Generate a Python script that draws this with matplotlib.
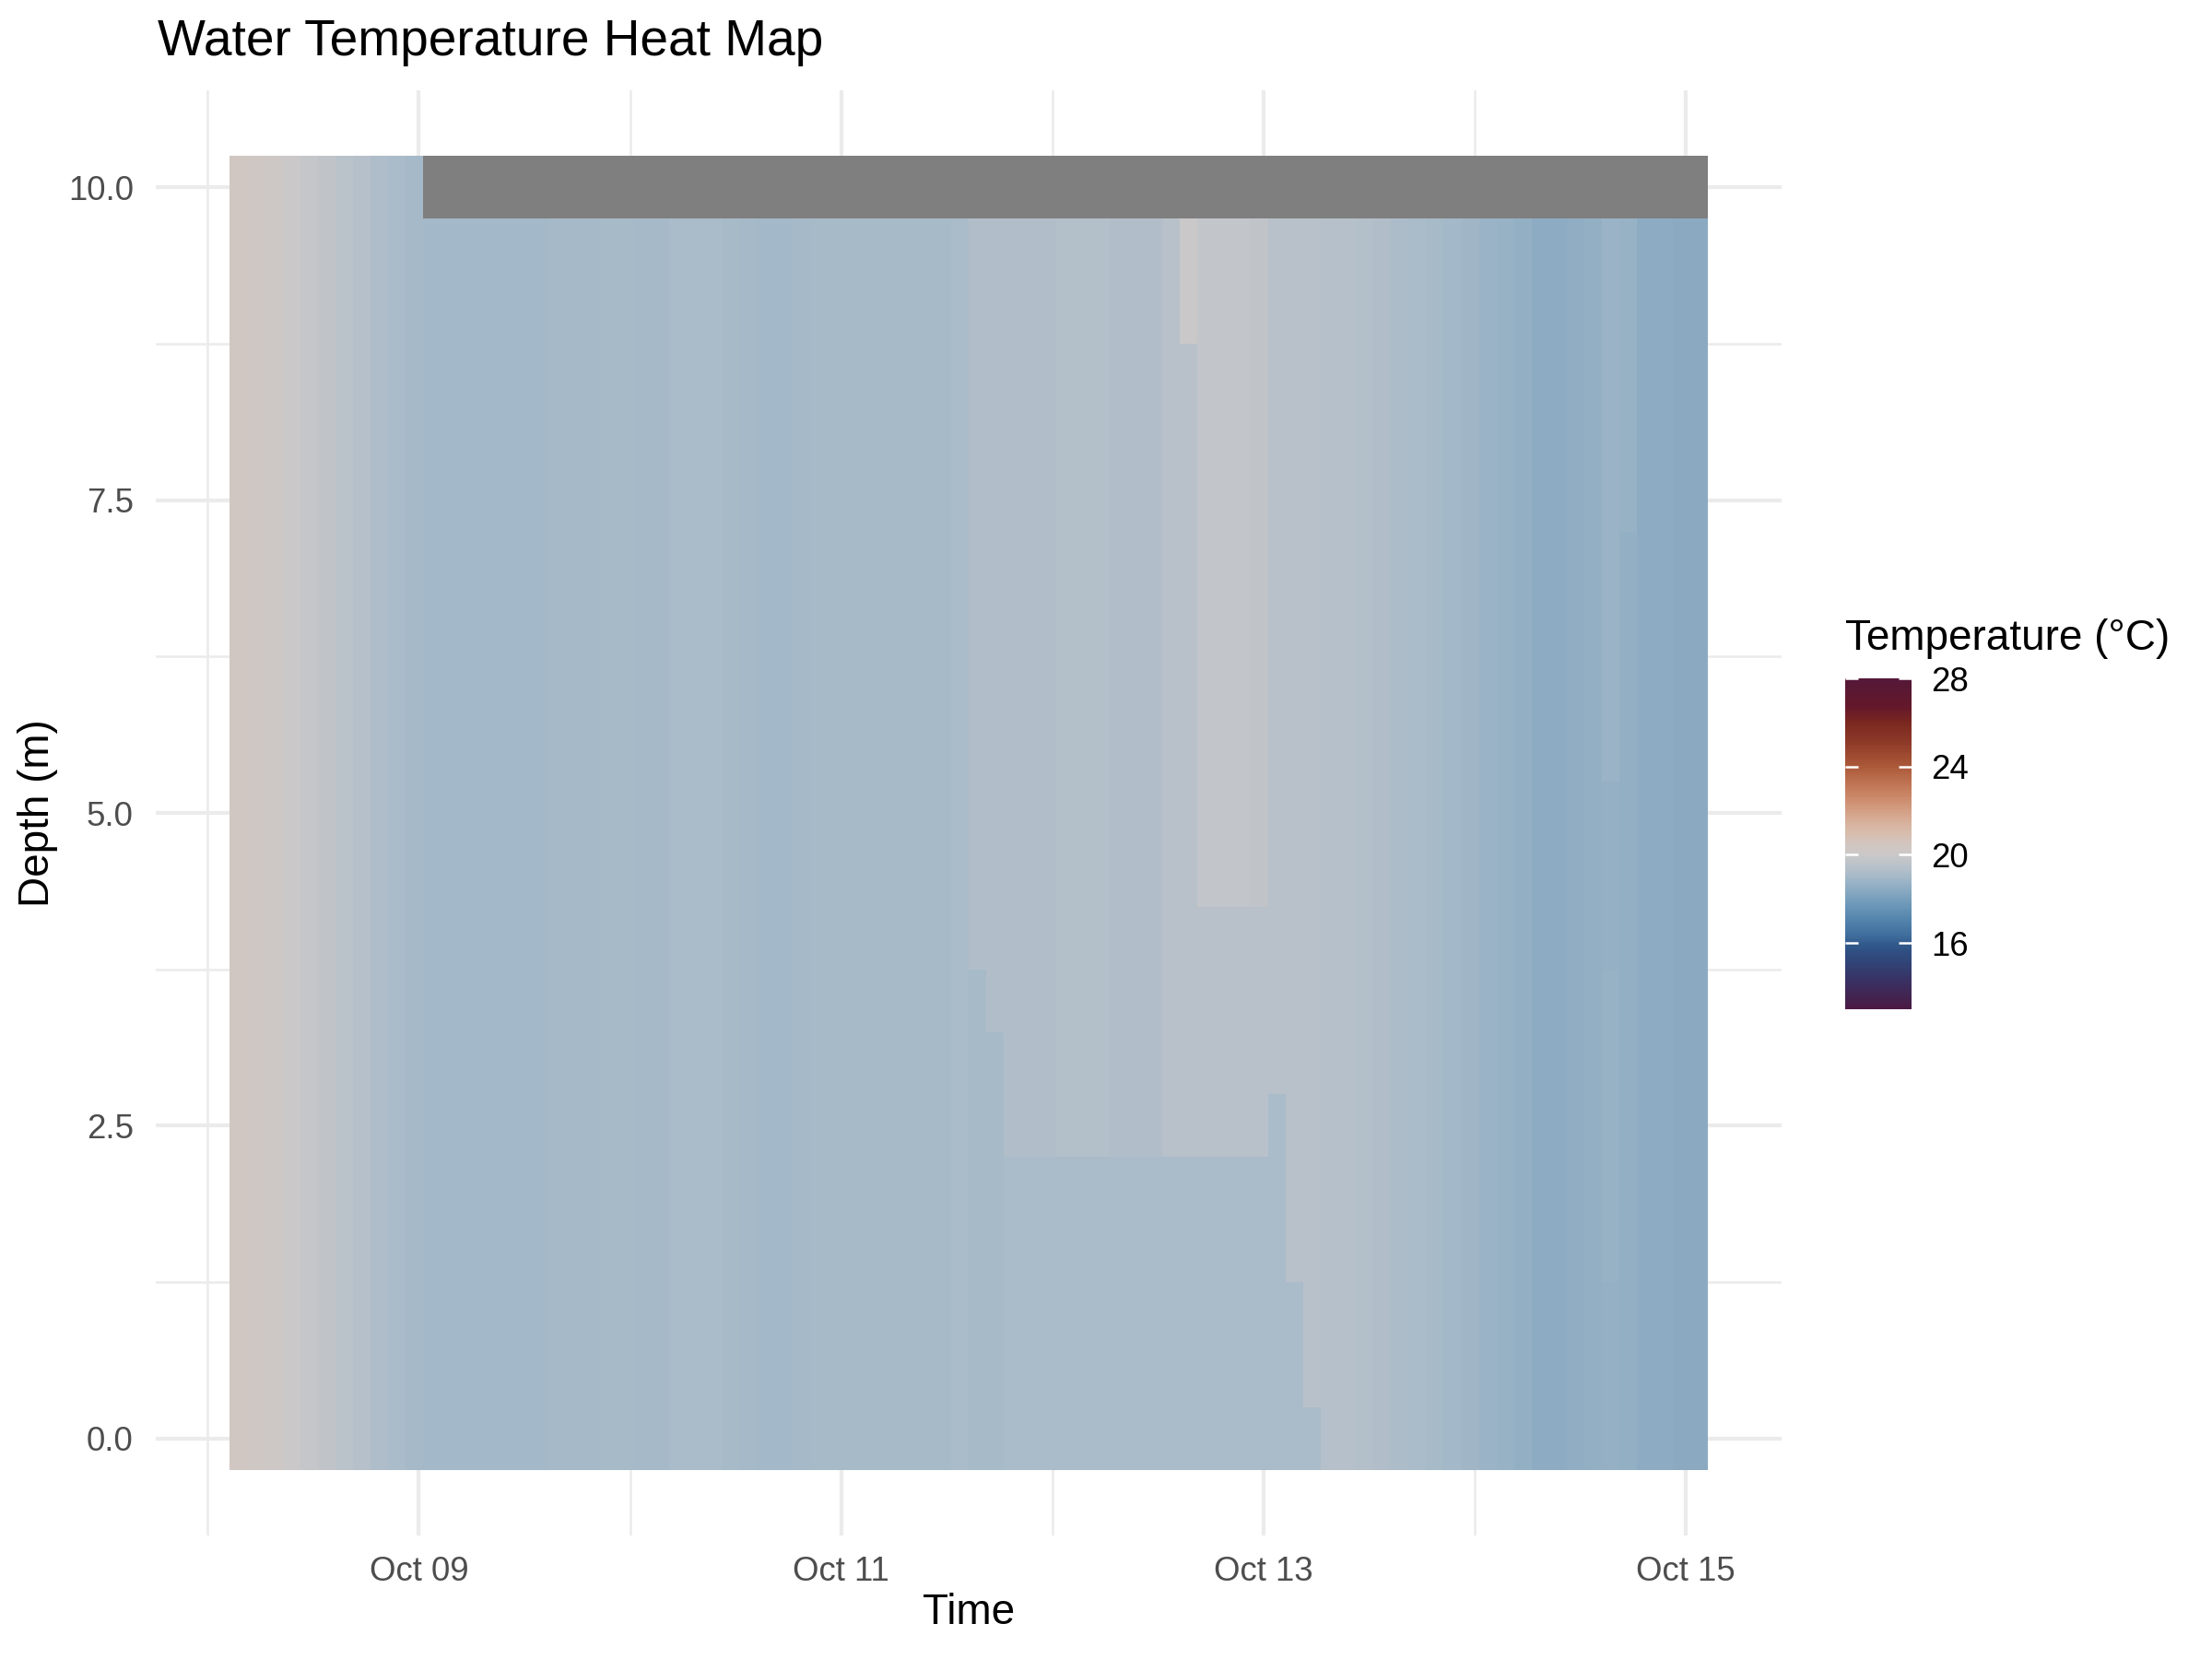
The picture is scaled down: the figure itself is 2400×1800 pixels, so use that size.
import numpy as np
import matplotlib
matplotlib.use('Agg')
import matplotlib.pyplot as plt
import matplotlib.dates as mdates
from matplotlib.colors import LinearSegmentedColormap
from datetime import datetime

plt.rcParams['font.family'] = ['Liberation Sans', 'DejaVu Sans']

# time columns: 2-hour tiles starting Oct 08 02:30
first_edge = datetime(2023, 10, 8, 2, 30)
step_hours = 2
depths = np.arange(0, 10.5, 0.5)

# temperature of the upper water column, one value per 2-hour tile
upper_temp = [
    20.35, 20.3, 20.15, 20.0, 19.85, 19.7, 19.55, 19.4, 19.25, 19.1,   # Oct 08
    19.0, 18.95, 18.92, 18.92, 18.92, 18.92, 18.97, 18.97, 19.0, 19.0,
    19.0, 19.05, 19.05, 19.02, 19.02, 19.1, 19.1, 19.1, 19.05, 19.0,
    18.95, 18.92, 18.98, 19.05, 19.05, 19.05, 19.05, 19.05, 19.05, 19.05,
    19.05, 19.1, 19.3, 19.3, 19.3, 19.3, 19.3, 19.35, 19.35, 19.35,
    19.3, 19.3, 19.3, 19.5, 19.5, 19.75, 19.75, 19.75, 19.7, 19.45,
    19.45, 19.45, 19.4, 19.4, 19.35, 19.3, 19.2, 19.15, 19.05, 18.95,
    18.9, 18.8, 18.7, 18.6, 18.5, 18.5, 18.55, 18.6, 18.65, 18.6,
    18.5, 18.45, 18.42, 18.4,
]

# colder bottom layer below a front (columns 42..61)
front_start = 42
front_depth = [4.0, 3.5] + [2.5] * 15 + [3.0, 1.5, 0.5]
lower_temp = [19.05, 19.05] + [19.1] * 15 + [19.1, 19.1, 19.1]

# smaller patches: (first column, last column, min depth, max depth, temperature)
patches = [
    (55, 58, 2.5, 4.0, 19.45),
    (54, 54, 9.0, 9.5, 20.0),
    (78, 78, 5.5, 9.5, 18.75),
    (79, 79, 7.5, 9.5, 18.7),
    (78, 78, 1.5, 3.5, 18.7),
]

# the 10 m sensor only reports for the first tiles
top_row_count = 11

# colour scale
scale_limits = (13, 28)
scale_values = [13, 13.5, 14.2, 14.9, 15.6, 16, 16.3, 17, 17.7, 18.4, 18.95, 19.5,
                20, 20.5, 21.2, 21.9, 22.55, 23.25, 24, 25.1, 26, 26.7, 28]
scale_colors = ['#4c1a44', '#42244f', '#3a2f62', '#323f72', '#2f4f83', '#335d8e',
                '#3f6c9b', '#5283ac', '#6c97b8', '#8aaac2', '#a3b8c8', '#b9c2ca',
                '#cac8c8', '#d3c6bf', '#d8b8a6', '#d5a38a', '#cc8b6c', '#bf7452',
                '#ac5a3a', '#8e3a28', '#7b2820', '#64182a', '#541838']
colorbar_ticks = [16, 20, 24, 28]

# build grid
n_cols = len(upper_temp)
temp = np.zeros((len(depths), n_cols))
for k in range(n_cols):
    temp[:, k] = upper_temp[k]
for i in range(len(front_depth)):
    k = front_start + i
    temp[depths < front_depth[i], k] = lower_temp[i]
for c0, c1, d0, d1, t in patches:
    rows = (depths >= d0) & (depths <= d1)
    temp[rows, c0:c1 + 1] = t
temp[depths == 10, top_row_count:] = np.nan

x_edges = mdates.date2num(first_edge) + np.arange(n_cols + 1) * step_hours / 24.0
y_edges = np.append(depths - 0.25, depths[-1] + 0.25)

lo, hi = scale_limits
cmap = LinearSegmentedColormap.from_list(
    'temp', [((v - lo) / (hi - lo), c) for v, c in zip(scale_values, scale_colors)])
cmap = cmap.with_extremes(bad='#7f7f7f')

fig = plt.figure(figsize=(8, 6), dpi=300)
ax = fig.add_axes([169 / 2400, 1 - 1666 / 1800, 1764 / 2400, 1568 / 1800])

mesh = ax.pcolormesh(x_edges, y_edges, np.ma.masked_invalid(temp), cmap=cmap,
                     vmin=lo, vmax=hi, shading='flat', antialiased=False,
                     linewidth=0, zorder=2)

xr = x_edges[-1] - x_edges[0]
ax.set_xlim(x_edges[0] - 0.05 * xr, x_edges[-1] + 0.05 * xr)
yr = y_edges[-1] - y_edges[0]
ax.set_ylim(y_edges[0] - 0.05 * yr, y_edges[-1] + 0.05 * yr)

ax.xaxis.set_major_locator(mdates.DayLocator(bymonthday=[9, 11, 13, 15]))
ax.xaxis.set_minor_locator(mdates.DayLocator(bymonthday=[8, 10, 12, 14]))
ax.xaxis.set_major_formatter(mdates.DateFormatter('%b %d'))
ax.set_yticks([0, 2.5, 5, 7.5, 10])
ax.set_yticks([1.25, 3.75, 6.25, 8.75], minor=True)
ax.yaxis.set_major_formatter(matplotlib.ticker.FormatStrFormatter('%.1f'))

ax.grid(which='major', color='#ebebeb', linewidth=1.0, zorder=0)
ax.grid(which='minor', color='#ebebeb', linewidth=0.6, zorder=0)
ax.set_axisbelow(True)
for s in ax.spines.values():
    s.set_visible(False)
ax.tick_params(which='both', length=0, labelsize=8.8, labelcolor='#4d4d4d')
ax.tick_params(axis='x', pad=5.3)
ax.tick_params(axis='y', pad=5.8)

ax.set_xlabel('Time', fontsize=11, va='center')
ax.xaxis.set_label_coords(0.5, -(1750 - 1666) / 1568)
ax.set_ylabel('Depth (m)', fontsize=11, va='center')
ax.yaxis.set_label_coords(-(169 - 41) / 1764, 0.5)

fig.text(171 / 2400, 1 - 46 / 1800, 'Water Temperature Heat Map', fontsize=13.2,
         va='center', ha='left')

# colour bar
cax = fig.add_axes([2002 / 2400, 1 - 1095 / 1800, 72 / 2400, 359 / 1800])
cbar = fig.colorbar(mesh, cax=cax, ticks=colorbar_ticks)
cbar.outline.set_visible(False)
cax.tick_params(direction='in', left=True, right=True, color='white',
                length=3.4, width=0.6, labelsize=8.8, labelcolor='black', pad=5)
fig.text(2002 / 2400, 1 - 693 / 1800, 'Temperature (°C)', fontsize=11,
         va='center', ha='left')

fig.savefig('out.png', dpi=300)
